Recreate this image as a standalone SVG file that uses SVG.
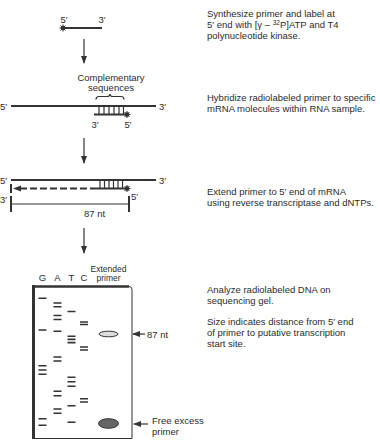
<svg xmlns="http://www.w3.org/2000/svg" width="380" height="440" viewBox="0 0 380 440">
<style>
text{font-family:"Liberation Sans",Arial,sans-serif;font-size:9.5px;fill:#2b2b2b}
.sm{font-size:8.5px}
.mid{text-anchor:middle}
.ln{stroke:#333;stroke-width:2;fill:none}
.th{stroke:#333;stroke-width:1.2;fill:none}
.band{stroke:#333;stroke-width:1.6}
</style>
<defs>
<marker id="ah" viewBox="0 0 8 8" refX="7" refY="4" markerWidth="8" markerHeight="8" markerUnits="userSpaceOnUse" orient="auto">
<path d="M0,1 L8,4 L0,7 Z" fill="#333"/>
</marker>
<g id="star">
<circle r="2.3" fill="#333"/>
<path d="M-3.5,0H3.5M0,-3.5V3.5M-2.5,-2.5L2.5,2.5M-2.5,2.5L2.5,-2.5" stroke="#333" stroke-width="1"/>
</g>
</defs>

<g id="connectors">
<line class="th" x1="84" y1="39" x2="84" y2="63" marker-end="url(#ah)"/>
<line class="th" x1="84" y1="138" x2="84" y2="163" marker-end="url(#ah)"/>
<line class="th" x1="84" y1="228" x2="84" y2="253" marker-end="url(#ah)"/>
<line class="th" x1="145" y1="334" x2="133" y2="334" marker-end="url(#ah)"/>
<line class="th" x1="148" y1="424" x2="134" y2="424" marker-end="url(#ah)"/>
</g>

<g id="step1">
<line class="ln" x1="63" y1="28" x2="102" y2="28"/>
<use href="#star" x="63" y="28"/>
<text x="64" y="23" class="mid">5′</text>
<text x="102" y="23" class="mid">3′</text>
<text x="207" y="16.5">Synthesize primer and label at</text>
<text x="207" y="27.5">5′ end with [γ – <tspan font-size="6.5" dy="-3">32</tspan><tspan dy="3">P]ATP and T4</tspan></text>
<text x="207" y="38.5">polynucleotide kinase.</text>
</g>

<g id="step2">
<text x="111" y="80.5" class="mid">Complementary</text>
<text x="111" y="91" class="mid">sequences</text>
<path class="th" d="M96,99.5 Q96,96.5 99,96.5 H107 Q110,96.5 110,94 Q110,96.5 113,96.5 H121 Q124,96.5 124,99.5"/>
<line class="ln" x1="11" y1="106" x2="156" y2="106"/>
<text x="0" y="109.5">5′</text>
<text x="159" y="109.5">3′</text>
<line class="ln" x1="94" y1="114.5" x2="128" y2="114.5"/>
<path class="th" d="M99,106V114M104,106V114M109,106V114M114,106V114M119,106V114M123.5,106V114"/>
<use href="#star" x="127" y="114.5"/>
<text x="95" y="128" class="mid">3′</text>
<text x="128" y="128" class="mid">5′</text>
<text x="207" y="100.5">Hybridize radiolabeled primer to specific</text>
<text x="207" y="111.5">mRNA molecules within RNA sample.</text>
</g>

<g id="step3">
<line class="ln" x1="11" y1="180" x2="156" y2="180"/>
<text x="0" y="183.5">5′</text>
<text x="159" y="183.5">3′</text>
<line x1="97" y1="188.5" x2="20" y2="188.5" stroke="#333" stroke-width="1.8" stroke-dasharray="7,3"/>
<path d="M13,188.5 L21,185.5 L21,191.5 Z" fill="#333"/>
<line class="ln" x1="97" y1="188.5" x2="127" y2="188.5"/>
<path class="th" d="M100,180V188M104.5,180V188M109,180V188M113.5,180V188M118,180V188M122.5,180V188"/>
<line class="ln" x1="11" y1="184" x2="11" y2="193"/>
<use href="#star" x="127" y="188.5"/>
<text x="131" y="199.5">5′</text>
<text x="0" y="202.5">3′</text>
<line class="ln" x1="11" y1="196" x2="11" y2="212"/>
<line class="ln" x1="129" y1="196" x2="129" y2="212"/>
<line class="th" x1="11" y1="204" x2="129" y2="204"/>
<text x="94.5" y="216.5" class="mid">87 nt</text>
<text x="207" y="194.5">Extend primer to 5′ end of mRNA</text>
<text x="207" y="205.5">using reverse transcriptase and dNTPs.</text>
</g>

<g id="gel">
<text x="42.5" y="281" class="mid">G</text>
<text x="57.5" y="281" class="mid">A</text>
<text x="71.5" y="281" class="mid">T</text>
<text x="84" y="281" class="mid">C</text>
<text x="108.5" y="271.5" class="mid sm">Extended</text>
<text x="108.5" y="281" class="mid sm">primer</text>
<path d="M33.5,286.5 H129 Q132,286.5 132,289.5 V438.5 H33.5 Z" fill="#fff" stroke="#333" stroke-width="1"/>
<line x1="33.5" y1="285" x2="33.5" y2="439" stroke="#333" stroke-width="3"/>
<line x1="32" y1="286.5" x2="129" y2="286.5" stroke="#333" stroke-width="2.5"/>
<g class="band">
<path d="M38.5,298.3h8M38.5,330h8M38.5,365.7h8M38.5,370h8M38.5,374.3h8M38.5,418.8h8M38.5,425.3h8"/>
<path d="M53.5,303h8M53.5,306.7h8M53.5,315.5h8M53.5,319.5h8M53.5,331.3h8M53.5,357h8M53.5,361h8M53.5,391.3h8M53.5,395.7h8M53.5,409h8M53.5,413.3h8"/>
<path d="M67.5,311.5h8M67.5,336.2h8M67.5,339.4h8M67.5,342.6h8M67.5,377.3h8M67.5,381.7h8M67.5,386.2h8M67.5,405.8h8M67.5,422.3h8"/>
<path d="M80,322h8M80,324.5h8M80,347h8M80,350h8M80,398.8h8M80,402h8"/>
</g>
<ellipse cx="108.5" cy="334" rx="9.5" ry="2.8" fill="#ddd" stroke="#333" stroke-width="1"/>
<ellipse cx="108.5" cy="423.5" rx="10" ry="4.8" fill="#666" stroke="#333" stroke-width="1"/>
<text x="147" y="337.5">87 nt</text>
<text x="152" y="423.5">Free excess</text>
<text x="152" y="434.5">primer</text>
<text x="207" y="292.5">Analyze radiolabeled DNA on</text>
<text x="207" y="303.5">sequencing gel.</text>
<text x="207" y="324.5">Size indicates distance from 5′ end</text>
<text x="207" y="335.5">of primer to putative transcription</text>
<text x="207" y="346.5">start site.</text>
</g>
</svg>
